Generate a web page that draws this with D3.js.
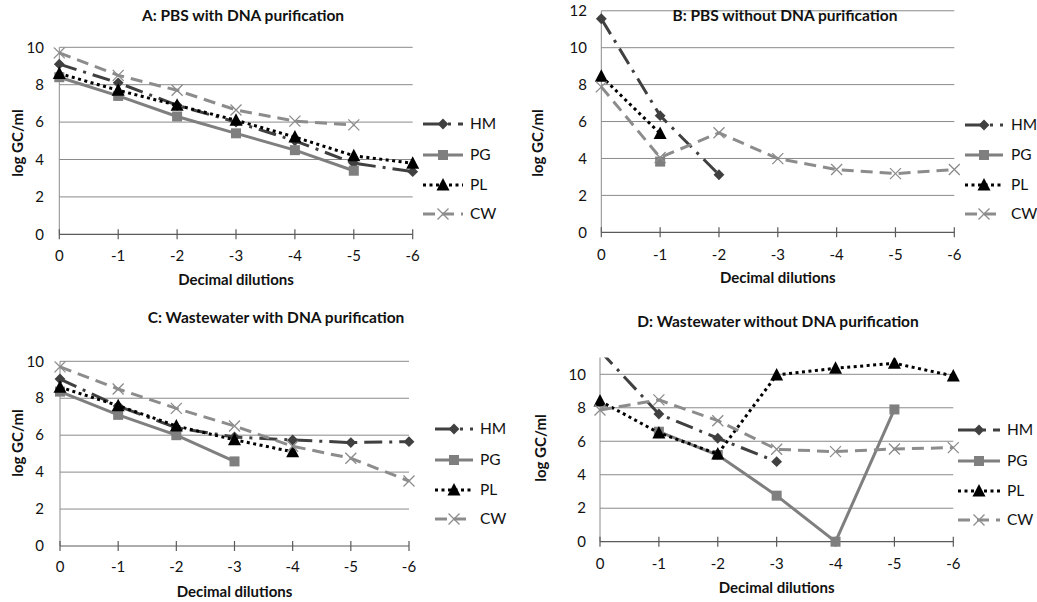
<!DOCTYPE html>
<html>
<head>
<meta charset="utf-8">
<script src="https://cdn.jsdelivr.net/npm/d3@7"></script>
<style>
  body { margin: 0; background: #fff; }
  text { font-family: Lato, "Open Sans", sans-serif; fill: #111; }
</style>
</head>
<body>
<div id="container"></div>
<script>
// categories on the x axis (decimal dilutions)
const dilutions = ["0", "-1", "-2", "-3", "-4", "-5", "-6"];
const seriesNames = ["HM", "PG", "PL", "CW"];

// A: PBS with DNA purification
const aHM = [9.1, 8.1, 6.9, 6.0, 5.0, 3.8, 3.35];
const aPG = [8.4, 7.4, 6.3, 5.4, 4.5, 3.4, null];
const aPL = [8.6, 7.7, 6.9, 6.1, 5.2, 4.2, 3.8];
const aCW = [9.7, 8.5, 7.7, 6.65, 6.05, 5.85, null];

// B: PBS without DNA purification
const bHM = [11.57, 6.32, 3.12, null, null, null, null];
const bPG = [null, 3.83, null, null, null, null, null];
const bPL = [8.45, 5.35, null, null, null, null, null];
const bCW = [7.88, 4.05, 5.39, 3.99, 3.4, 3.18, 3.4];

// C: Wastewater with DNA purification
const cHM = [9.04, 7.58, 6.4, 5.9, 5.74, 5.6, 5.65];
const cPG = [8.36, 7.1, 6.0, 4.58, null, null, null];
const cPL = [8.6, 7.6, 6.5, 5.75, 5.1, null, null];
const cCW = [9.7, 8.5, 7.45, 6.5, 5.4, 4.75, 3.52];

// D: Wastewater without DNA purification
const dHM = [11.4, 7.63, 6.18, 4.78, null, null, null];
const dPG = [null, 6.57, 5.18, 2.75, 0, 7.9, null];
const dPL = [8.4, 6.5, 5.24, 9.96, 10.36, 10.66, 9.9];
const dCW = [7.87, 8.47, 7.23, 5.52, 5.38, 5.54, 5.62];

const yTicks10 = [0, 2, 4, 6, 8, 10];
const yTicks12 = [0, 2, 4, 6, 8, 10, 12];

const styles = {
  HM: { color: "#404040", dash: "18,7,3,7", marker: "diamond" },
  PG: { color: "#7f7f7f", dash: null, marker: "square" },
  PL: { color: "#000000", dash: "3,3.5", marker: "triangle" },
  CW: { color: "#8c8c8c", dash: "12,7", marker: "x" }
};

const panels = [
  { title: "A: PBS with DNA purification", data: [aHM, aPG, aPL, aCW], ticks: yTicks10, ymax: 10,
    x0: 59.3, x1: 412.7, yb: 234.3, yt: 47.3, titleX: 243, titleY: 21, xlabY: 261, xtitleY: 285,
    ylabX: 18, ylabY: 143, tickX: 44, legX: 423, legW: 40, legTextX: 470, legY: [124, 155, 185, 214] },
  { title: "B: PBS without DNA purification", data: [bHM, bPG, bPL, bCW], ticks: yTicks12, ymax: 12,
    x0: 601.3, x1: 954.3, yb: 232.3, yt: 47.7, titleX: 785, titleY: 21, xlabY: 260, xtitleY: 283,
    ylabX: 538, ylabY: 143, tickX: 587, legX: 965, legW: 38, legTextX: 1011, legY: [125, 155, 185, 214] },
  { title: "C: Wastewater with DNA purification", data: [cHM, cPG, cPL, cCW], ticks: yTicks10, ymax: 10,
    x0: 60, x1: 409, yb: 546, yt: 361.3, titleX: 276, titleY: 323, xlabY: 572, xtitleY: 597,
    ylabX: 18, ylabY: 443, tickX: 44, legX: 435, legW: 38, legTextX: 480, legY: [429, 460, 490, 519] },
  { title: "D: Wastewater without DNA purification", data: [dHM, dPG, dPL, dCW], ticks: yTicks10, ymax: 11,
    x0: 600, x1: 953.3, yb: 541.7, yt: 374.3, titleX: 778, titleY: 327, xlabY: 569, xtitleY: 593,
    ylabX: 541, ylabY: 448, tickX: 586, legX: 958, legW: 42, legTextX: 1007, legY: [430, 461, 491, 520] }
];

const svg = d3.select("#container").append("svg")
  .attr("width", 1037).attr("height", 602);

function marker(g, type, x, y, color) {
  if (type === "diamond") {
    g.append("path").attr("d", d3.symbol(d3.symbolDiamond2, 75)())
      .attr("transform", `translate(${x},${y})`).attr("fill", color);
  } else if (type === "square") {
    g.append("rect").attr("x", x - 5).attr("y", y - 5).attr("width", 10).attr("height", 10)
      .attr("fill", color);
  } else if (type === "triangle") {
    g.append("path").attr("d", `M${x},${y - 7}L${x + 6.5},${y + 5.5}L${x - 6.5},${y + 5.5}Z`)
      .attr("fill", color);
  } else {
    g.append("path").attr("d", `M${x - 5.5},${y - 5.5}L${x + 5.5},${y + 5.5}M${x + 5.5},${y - 5.5}L${x - 5.5},${y + 5.5}`)
      .attr("stroke", color).attr("stroke-width", 1.3).attr("fill", "none");
  }
}

panels.forEach((p, pi) => {
  const g = svg.append("g");
  const x = d3.scalePoint().domain(dilutions).range([p.x0, p.x1]);
  const unit = (p.yb - p.yt) / 10;
  const y = d3.scaleLinear().domain([0, p.ymax]).range([p.yb, p.yb - unit * p.ymax]);

  // gridlines
  g.append("g").selectAll("line").data(p.ticks.filter(t => t > 0)).join("line")
    .attr("x1", p.x0).attr("x2", p.x1)
    .attr("y1", d => y(d)).attr("y2", d => y(d))
    .attr("stroke", "#8a8a8a").attr("stroke-width", 1);

  // y axis line + tick labels
  g.append("line").attr("x1", p.x0).attr("x2", p.x0).attr("y1", y(p.ymax)).attr("y2", y(0))
    .attr("stroke", "#8a8a8a");
  g.append("g").selectAll("text").data(p.ticks).join("text")
    .attr("x", p.tickX).attr("y", d => y(d)).attr("dy", "0.35em")
    .attr("text-anchor", "end").attr("font-size", 15).text(d => d);

  // x axis line with cross ticks
  g.append("line").attr("x1", p.x0).attr("x2", p.x1).attr("y1", y(0)).attr("y2", y(0))
    .attr("stroke", "#5a5a5a").attr("stroke-width", 1.2);
  g.append("g").selectAll("line").data(dilutions).join("line")
    .attr("x1", d => x(d)).attr("x2", d => x(d))
    .attr("y1", y(0) - 5).attr("y2", y(0) + 5).attr("stroke", "#5a5a5a").attr("stroke-width", 1.2);
  g.append("g").selectAll("text").data(dilutions).join("text")
    .attr("x", d => x(d)).attr("y", p.xlabY).attr("text-anchor", "middle")
    .attr("font-size", 15).text(d => d);

  // titles
  g.append("text").attr("x", p.titleX).attr("y", p.titleY).attr("text-anchor", "middle")
    .attr("font-size", 15.5).attr("font-weight", "bold").text(p.title);
  g.append("text").attr("x", (p.x0 + p.x1) / 2).attr("y", p.xtitleY).attr("text-anchor", "middle")
    .attr("font-size", 15).attr("font-weight", "bold").text("Decimal dilutions");
  g.append("text").attr("transform", `translate(${p.ylabX},${p.ylabY}) rotate(-90)`)
    .attr("dy", "0.35em").attr("text-anchor", "middle")
    .attr("font-size", 15).attr("font-weight", "bold").text("log GC/ml");

  // clip to plot area (HM in D goes off the top)
  const clipId = "clip" + pi;
  svg.append("clipPath").attr("id", clipId).append("rect")
    .attr("x", p.x0 - 10).attr("y", y(p.ymax)).attr("width", p.x1 - p.x0 + 20)
    .attr("height", y(0) - y(p.ymax) + 10);
  const plot = g.append("g").attr("clip-path", `url(#${clipId})`);

  const line = d3.line()
    .defined(d => d.v != null)
    .x(d => x(d.c)).y(d => y(d.v));

  seriesNames.forEach((name, si) => {
    const st = styles[name];
    const pts = p.data[si].map((v, i) => ({ c: dilutions[i], v: v }));
    plot.append("path").datum(pts)
      .attr("d", line).attr("fill", "none")
      .attr("stroke", st.color).attr("stroke-width", 3)
      .attr("stroke-dasharray", st.dash);
    pts.filter(d => d.v != null).forEach(d => marker(plot, st.marker, x(d.c), y(d.v), st.color));

    // legend
    const ly = p.legY[si];
    g.append("line").attr("x1", p.legX).attr("x2", p.legX + p.legW).attr("y1", ly).attr("y2", ly)
      .attr("stroke", st.color).attr("stroke-width", 3).attr("stroke-dasharray", st.dash);
    marker(g, st.marker, p.legX + p.legW / 2, ly, st.color);
    g.append("text").attr("x", p.legTextX).attr("y", ly).attr("dy", "0.35em")
      .attr("font-size", 15.5).text(name);
  });
});
</script>
</body>
</html>
